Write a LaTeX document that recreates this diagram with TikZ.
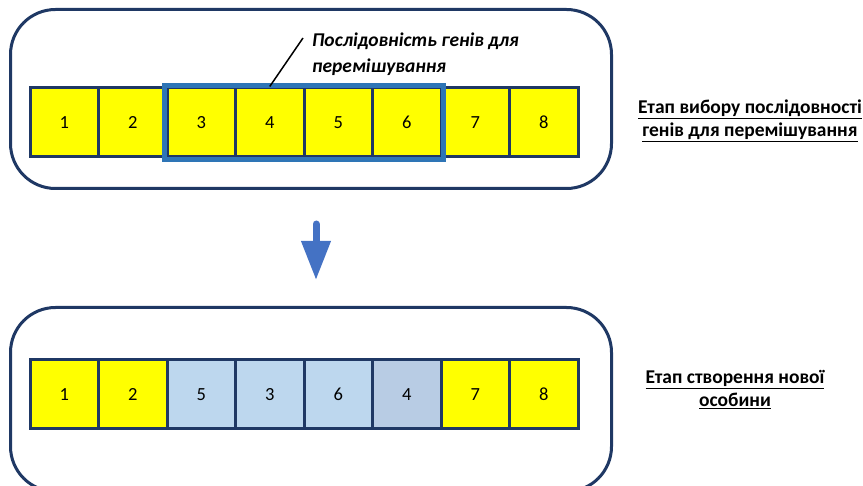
\documentclass[tikz,border=0pt]{standalone}
\usepackage{fontspec}
\setmainfont{Carlito}
\usetikzlibrary{positioning, fit, arrows.meta}

\definecolor{framenavy}{RGB}{31,56,100}
\definecolor{hiliteblue}{RGB}{46,117,182}
\definecolor{arrowblue}{RGB}{68,114,196}
\definecolor{geneyellow}{RGB}{255,255,0}
\definecolor{newgene}{RGB}{189,215,238}
\definecolor{movedgene}{RGB}{184,204,228}

\tikzset{
  stage/.style={draw=framenavy, line width=3pt, rounded corners=45pt, inner sep=0pt},
  gene/.style={draw=framenavy, line width=3pt, fill=geneyellow, minimum width=68.5pt,
    minimum height=69pt, inner sep=0pt, font=\fontsize{18.5}{22}\selectfont},
  steplabel/.style={align=center, font=\bfseries\fontsize{19.5}{23}\selectfont},
}

\begin{document}
\begin{tikzpicture}[x=1pt, y=-1pt]
  \useasboundingbox (0,0) rectangle (863,486);

  % the two stage frames
  \node[stage, minimum width=601pt, minimum height=179pt] (upper) at (311,99) {};
  \node[stage, minimum width=601pt, minimum height=184pt] (lower) at (311,399.5) {};

  % parent chromosome
  \foreach \g [count=\i] in {1,...,8}
    \node[gene] (c\i) at ({30+68.5*(\i-0.5)}, 122.5) {\g};

  % chosen subsequence
  \node[draw=hiliteblue, line width=5pt, inner sep=1pt, fit=(c3)(c6)] (chosen) {};
  \node[align=left, anchor=north west, inner sep=0pt, font=\bfseries\itshape\fontsize{19.5}{26}\selectfont]
    (seqlabel) at (312,33) {Послідовність генів для\\перемішування};
  \coordinate (tip) at (303,38);
  \draw[line width=1.5pt] (c4.north) -- (tip);

  % new individual
  \foreach \g/\col [count=\i] in {1/geneyellow,2/geneyellow,5/newgene,3/newgene,6/newgene,4/movedgene,7/geneyellow,8/geneyellow}
    \node[gene, fill=\col] (d\i) at ({30+68.5*(\i-0.5)}, 394.5) {\g};

  % arrow between the stages
  \coordinate (a1) at (316,224);
  \coordinate (a2) at (316,280);
  \draw[arrowblue, line width=7pt, line cap=round, -{Triangle[length=39pt, width=28pt]}] (a1) -- (a2);

  % stage names
  \node[steplabel] (stage1) at (750,121) {\underline{Етап вибору послідовності}\\\underline{генів для перемішування}};
  \node[steplabel] (stage2) at (735,389.5) {\underline{Етап створення нової}\\\underline{особини}};
\end{tikzpicture}
\end{document}
